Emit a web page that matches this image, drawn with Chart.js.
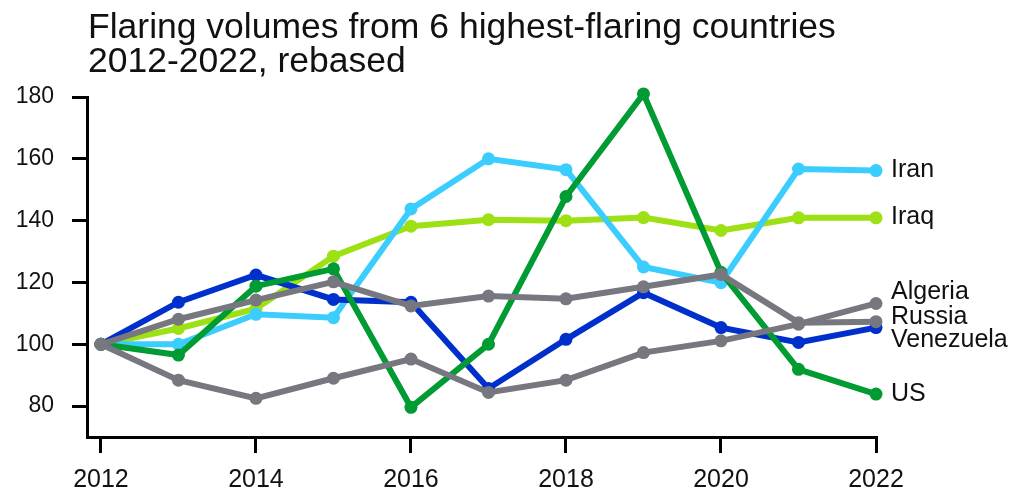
<!DOCTYPE html>
<html>
<head>
<meta charset="utf-8">
<title>Flaring volumes</title>
<script src="https://cdn.jsdelivr.net/npm/chart.js@4.4.0/dist/chart.umd.min.js"></script>
<style>
    html, body { margin: 0; padding: 0; background: #fff; }
    #wrap { width: 1024px; height: 502px; position: relative; }
</style>
</head>
<body>
<div id="wrap"><canvas id="flareChart"></canvas></div>
<script>
// Data (rebased, 2012 = 100)
const years = [2012, 2013, 2014, 2015, 2016, 2017, 2018, 2019, 2020, 2021, 2022];
const xTicks = [2012, 2014, 2016, 2018, 2020, 2022];
const yTicks = [80, 100, 120, 140, 160, 180];

const russia    = [100, 108.1, 114.3, 120.2, 112.4, 115.6, 114.7, 118.6, 122.6, 107.0, 107.3];
const algeria   = [100, 88.4, 82.5, 89.0, 95.2, 84.4, 88.4, 97.3, 101.1, 106.5, 113.2];
const us        = [100, 96.5, 118.8, 124.4, 79.6, 100.0, 147.8, 181.0, 123.3, 91.9, 83.9];
const venezuela = [100, 113.6, 122.4, 114.5, 113.6, 85.7, 101.6, 116.7, 105.4, 100.6, 105.4];
const iran      = [100, 100.0, 109.7, 108.6, 143.8, 160.0, 156.5, 125.0, 119.9, 156.7, 156.2];
const iraq      = [100, 105.1, 111.5, 128.5, 138.2, 140.3, 140.0, 141.0, 136.8, 140.9, 140.9];

const FONT = "'Liberation Sans', Arial, sans-serif";

// Build series (first one is drawn on top)
function series(label, values, color, nudge) {
    return {
        label: label,
        data: values.map((v, i) => ({ x: years[i], y: v })),
        borderColor: color,
        backgroundColor: color,
        borderWidth: 6,
        pointRadius: 6.5,
        pointHoverRadius: 6.5,
        pointBorderWidth: 0,
        tension: 0,
        clip: false,
        endNudge: nudge
    };
}

// Draws title and end-of-line country names
const annotations = {
    id: 'annotations',
    afterDraw(chart) {
        const ctx = chart.ctx;
        ctx.save();
        ctx.fillStyle = '#111';
        ctx.textAlign = 'left';
        ctx.textBaseline = 'alphabetic';
        ctx.font = '35.5px ' + FONT;
        ctx.fillText('Flaring volumes from 6 highest-flaring countries', 88, 38);
        ctx.fillText('2012-2022, rebased', 88, 72);

        ctx.font = '25px ' + FONT;
        ctx.textBaseline = 'middle';
        chart.data.datasets.forEach((ds, i) => {
            const meta = chart.getDatasetMeta(i);
            const last = meta.data[meta.data.length - 1];
            ctx.fillText(ds.label, last.x + 15, last.y + ds.endNudge);
        });
        ctx.restore();
    }
};

const ctx = document.getElementById('flareChart').getContext('2d');
const flareChart = new Chart(ctx, {
    type: 'line',
    data: {
        datasets: [
            series('Russia', russia, '#76777f', -5),
            series('Algeria', algeria, '#76777f', -11),
            series('US', us, '#009b32', 0),
            series('Venezuela', venezuela, '#0030cc', 13),
            series('Iran', iran, '#3acdfd', 0),
            series('Iraq', iraq, '#9de014', -1)
        ]
    },
    options: {
        responsive: true,
        maintainAspectRatio: false,
        animation: false,
        layout: { padding: { top: 97, right: 148, bottom: 0, left: 0 } },
        plugins: {
            legend: { display: false },
            tooltip: { enabled: false },
            title: { display: false }
        },
        scales: {
            x: {
                type: 'linear',
                min: 2011.82,
                max: 2022,
                afterBuildTicks(scale) { scale.ticks = xTicks.map(v => ({ value: v })); },
                afterFit(scale) { scale.height = 65; },
                border: { display: true, color: '#000', width: 3 },
                grid: { display: true, drawOnChartArea: false, drawTicks: true, tickLength: 16, color: '#000', lineWidth: 3 },
                ticks: {
                    color: '#111',
                    padding: 12,
                    maxRotation: 0,
                    font: { family: FONT, size: 25 },
                    callback: v => String(v)
                }
            },
            y: {
                min: 70,
                max: 180,
                afterBuildTicks(scale) { scale.ticks = yTicks.map(v => ({ value: v })); },
                afterFit(scale) { scale.width = 87; },
                border: { display: true, color: '#000', width: 3 },
                grid: { display: true, drawOnChartArea: false, drawTicks: true, tickLength: 15, color: '#000', lineWidth: 3 },
                ticks: {
                    color: '#111',
                    padding: 18,
                    font: { family: FONT, size: 23 }
                }
            }
        }
    },
    plugins: [annotations]
});
</script>
</body>
</html>
